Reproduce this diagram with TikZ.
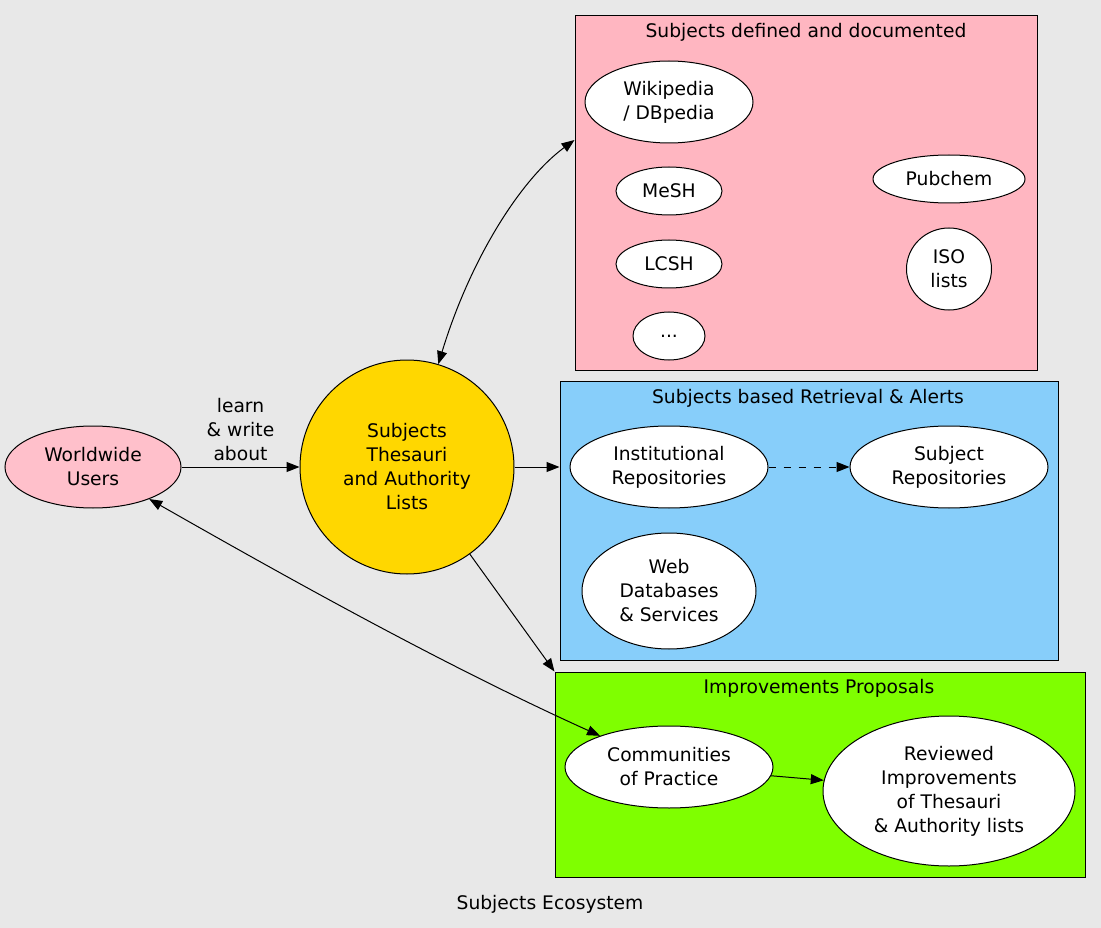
\documentclass[tikz,border=0pt]{standalone}
\usepackage{fontspec}
\setmainfont{DejaVu Sans}
\usetikzlibrary{shapes.geometric,arrows.meta}
\definecolor{bgc}{HTML}{E8E8E8}
\definecolor{lpink}{HTML}{FFB6C1}
\definecolor{upink}{HTML}{FFC0CB}
\definecolor{goldc}{HTML}{FFD700}
\definecolor{skyc}{HTML}{87CEFA}
\definecolor{chartc}{HTML}{7FFF00}
\begin{document}
\begin{tikzpicture}[x=1pt,y=-1pt,
  every node/.style={font=\fontsize{18.7}{24}\selectfont, align=center},
  ell/.style={ellipse, draw, line width=1pt, fill=white, inner sep=0pt},
  cluster/.style={rectangle, draw, line width=1pt, inner sep=0pt},
  conn/.style={line width=1pt, -{Triangle[length=13pt,width=10pt]}},
  bconn/.style={line width=1pt, {Triangle[length=13pt,width=10pt]}-{Triangle[length=13pt,width=10pt]}},
]
\fill[bgc] (0,0) rectangle (1101,928);
\useasboundingbox (0,0) rectangle (1101,928);

% clusters
\node[cluster, fill=lpink, minimum width=462pt, minimum height=354pt] (pink) at (806,193) {};
\node (pinkt) at (806,32) {Subjects defined and documented};
\node[cluster, fill=skyc, minimum width=498pt, minimum height=279pt] (blue) at (809,520.5) {};
\node (bluet) at (808,398) {Subjects based Retrieval \& Alerts};
\node[cluster, fill=chartc, minimum width=530pt, minimum height=205pt] (green) at (820,774.5) {};
\node (greent) at (819,688) {Improvements Proposals};

% pink contents
\node[ell, minimum width=168pt, minimum height=82pt] (wiki) at (669,102) {Wikipedia\\/ DBpedia};
\node[ell, minimum width=106pt, minimum height=48pt] (mesh) at (669,191) {MeSH};
\node[ell, minimum width=106pt, minimum height=48pt] (lcsh) at (669,264) {LCSH};
\node[ell, minimum width=72pt, minimum height=48pt] (dots) at (669,336) {...};
\node[ell, minimum width=152pt, minimum height=48pt] (pubchem) at (949,179) {Pubchem};
\node[ell, minimum width=85pt, minimum height=82pt] (iso) at (949,269) {ISO\\lists};

% blue contents
\node[ell, minimum width=198pt, minimum height=82pt] (inst) at (669,467) {Institutional\\Repositories};
\node[ell, minimum width=198pt, minimum height=82pt] (subj) at (949,467) {Subject\\Repositories};
\node[ell, minimum width=174pt, minimum height=116pt] (web) at (669,591) {Web\\Databases\\\& Services};

% green contents
\node[ell, minimum width=208pt, minimum height=82pt] (comm) at (669,767) {Communities\\of Practice};
\node[ell, minimum width=252pt, minimum height=150pt] (rev) at (949,791) {Reviewed\\Improvements\\of Thesauri\\\& Authority lists};

% main nodes
\node[ell, fill=upink, minimum width=176pt, minimum height=82pt] (users) at (93,467) {Worldwide\\Users};
\node[circle, draw, line width=1pt, fill=goldc, minimum size=214pt, inner sep=0pt] (thes) at (407,467) {Subjects\\Thesauri\\and Authority\\Lists};

% caption
\node (cap) at (550,904) {Subjects Ecosystem};

% connectors
\draw[conn] (users) -- node[midway, above=2pt] (lbl) {learn\\\& write\\about} (thes);
\draw[bconn] (thes) .. controls (470,260) and (520,180) .. ([yshift=53pt]pink.west);
\draw[conn] (thes) -- (blue.west |- thes);
\draw[conn] (thes) -- (green.north west);
\draw[bconn] (users) .. controls (300,585) and (450,668) .. (comm);
\draw[conn, dash pattern=on 7pt off 8pt] (inst) -- (subj);
\draw[conn] (comm) -- (rev);
\end{tikzpicture}
\end{document}
